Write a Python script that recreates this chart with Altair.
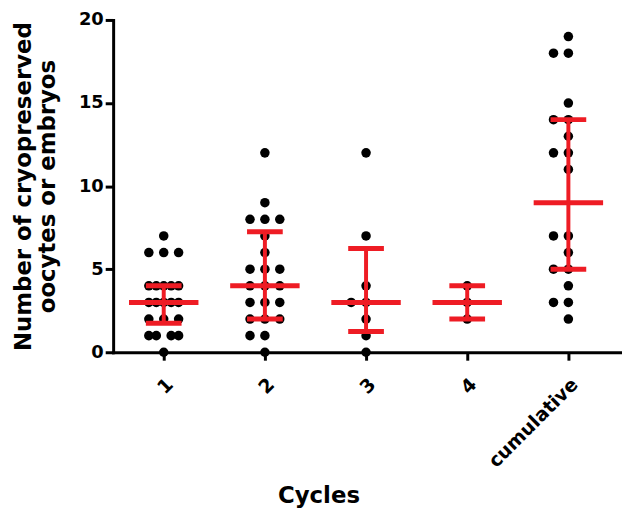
import altair as alt
import numpy as np
import pandas as pd

# values (one entry per dot)
categories = ["1", "2", "3", "4", "cumulative"]
cycle_1 = [7, 6, 6, 6, 4, 4, 4, 4, 4, 3, 3, 3, 3, 3, 2, 2, 2, 1, 1, 1, 1, 0]
cycle_2 = [12, 9, 8, 8, 8, 7, 6, 5, 5, 5, 4, 4, 4, 3, 3, 3, 2, 2, 2, 1, 1, 0]
cycle_3 = [12, 7, 4, 3, 3, 2, 1, 0]
cycle_4 = [4, 3, 2]
cumulative = [19, 18, 18, 15, 14, 14, 13, 12, 12, 11, 7, 7, 6, 5, 5, 4, 3, 3, 2]

# median and interquartile range as drawn
medians = [3, 4, 3, 3, 9]
q1 = [1.75, 2, 1.25, 2, 5]
q3 = [4, 7.25, 6.25, 4, 14]

RED = "#ee1c24"
FONT = "DejaVu Sans"
W, H = 513, 335
XMAX = 5.53
px = W / (XMAX - 0.5)  # pixels per category step

# spread equal values side by side, GraphPad style
rows = []
for i, vals in enumerate([cycle_1, cycle_2, cycle_3, cycle_4, cumulative], start=1):
    counts = pd.Series(vals).value_counts()
    m = counts.max()
    step = min(15, 30 / (m - 1)) if m > 1 else 15
    lo, hi = -(m // 2), m - 1 - m // 2
    for v, k in counts.items():
        if k == 1:
            slots = [0]
        elif k == 2:
            slots = [-1, 0]
        else:
            slots = np.round(np.linspace(lo, hi, k))
        for s in slots:
            rows.append({"value": v, "x": i + s * step / px})
dots_df = pd.DataFrame(rows)

idx = np.arange(1, 6)
summ = pd.DataFrame({
    "i": idx, "median": medians, "q1": q1, "q3": q3,
    "m_lo": idx - 35 / px, "m_hi": idx + 35 / px,
    "c_lo": idx - 18 / px, "c_hi": idx + 18 / px,
})

label_expr = "[" + ",".join(f"'{c}'" for c in categories) + "][datum.value - 1]"

x_scale = alt.Scale(domain=[0.5, XMAX], nice=False, zero=False)
y_scale = alt.Scale(domain=[0, 20], nice=False)

x_axis = alt.Axis(
    values=[1, 2, 3, 4, 5], labelExpr=label_expr, labelAngle=-45,
    labelAlign="right", labelBaseline="middle", labelPadding=21, labelOffset=6,
    labelFont=FONT, labelFontWeight="bold", labelFontSize=19, labelColor="black",
    tickSize=8, tickWidth=3, tickColor="black", domainWidth=3, domainColor="black",
    domainCap="square", grid=False, title="Cycles", titleFont=FONT,
    titleFontWeight="bold", titleFontSize=23, titleColor="black",
    titleX=207, titleY=151, titleBaseline="alphabetic",
)
y_axis = alt.Axis(
    values=[0, 5, 10, 15, 20], labelFont=FONT, labelFontWeight="bold",
    labelFontSize=18, labelColor="black", labelPadding=2,
    tickSize=8, tickWidth=3, tickColor="black", domainWidth=3, domainColor="black",
    domainCap="square", grid=False,
    title=["Number of cryopreserved", "oocytes or embryos"], titleFont=FONT,
    titleFontWeight="bold", titleFontSize=23, titleLineHeight=24,
    titleColor="black", titlePadding=19,
)

dots = alt.Chart(dots_df).mark_circle(size=92, color="black", opacity=1, clip=False).encode(
    x=alt.X("x:Q", scale=x_scale, axis=x_axis),
    y=alt.Y("value:Q", scale=y_scale, axis=y_axis),
)

base = alt.Chart(summ)
med_line = base.mark_rule(color=RED, strokeWidth=5).encode(
    x="m_lo:Q", x2="m_hi:Q", y="median:Q")
vbar = base.mark_rule(color=RED, strokeWidth=4).encode(
    x="i:Q", y="q1:Q", y2="q3:Q")
cap_lo = base.mark_rule(color=RED, strokeWidth=5).encode(
    x="c_lo:Q", x2="c_hi:Q", y="q1:Q")
cap_hi = base.mark_rule(color=RED, strokeWidth=5).encode(
    x="c_lo:Q", x2="c_hi:Q", y="q3:Q")

chart = (dots + vbar + med_line + cap_lo + cap_hi).properties(
    width=W, height=H,
    autosize=alt.AutoSizeParams(type="none"),
    padding={"left": 106, "top": 10, "right": 0, "bottom": 158},
    background="white",
).configure_view(stroke=None)

chart.save("out.html", embed_options={"renderer": "svg", "actions": False})
